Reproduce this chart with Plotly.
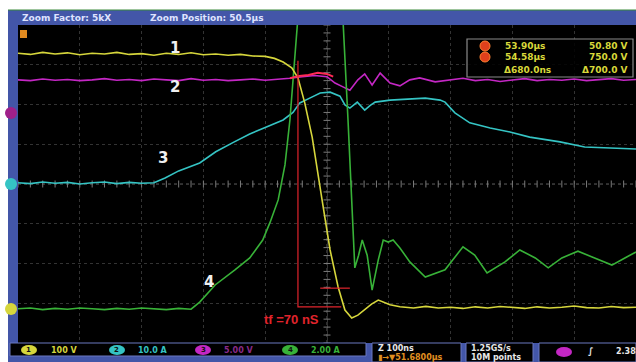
import plotly.graph_objects as go
import numpy as np

W, H = 636, 362

# ---------------- waveform data (time in ns, amplitude in divisions) ----------------
ch1_t = [0, 20, 40, 60, 80, 100, 120, 140, 160, 180, 200, 220, 240, 260, 280, 300, 320, 340,
         360, 380, 400, 415, 429, 443, 453, 464, 476, 485, 492, 505, 518, 529, 540, 550, 561,
         572, 583, 593, 602, 618, 640, 660, 680, 700, 720, 740, 760, 780, 800, 820, 840, 860,
         880, 900, 920, 940, 960, 980, 1000]
ch1_v = [3.29, 3.26, 3.31, 3.27, 3.30, 3.25, 3.29, 3.27, 3.31, 3.26, 3.28, 3.24, 3.29, 3.26,
         3.30, 3.25, 3.27, 3.24, 3.26, 3.22, 3.21, 3.16, 3.07, 2.92, 2.67, 2.04, 1.18, 0.35,
         -0.40, -1.66, -2.59, -3.17, -3.37, -3.30, -3.17, -3.02, -2.92, -2.98, -3.04, -3.09,
         -3.12, -3.08, -3.12, -3.10, -3.13, -3.09, -3.12, -3.08, -3.11, -3.13, -3.09, -3.12,
         -3.10, -3.07, -3.11, -3.12, -3.08, -3.11, -3.10]

ch3_t = [0, 20, 40, 60, 80, 100, 120, 140, 160, 180, 200, 220, 240, 260, 280, 300, 320, 340,
         360, 380, 400, 420, 440, 460, 480, 500, 513, 525, 537, 550, 561, 573, 586, 602, 618,
         634, 650, 675, 699, 720, 740, 760, 780, 800, 820, 840, 860, 880, 900, 920, 940, 960,
         980, 1000]
ch3_v = [2.62, 2.60, 2.64, 2.61, 2.63, 2.60, 2.62, 2.65, 2.61, 2.63, 2.60, 2.64, 2.62, 2.60,
         2.65, 2.61, 2.63, 2.60, 2.62, 2.64, 2.61, 2.63, 2.66, 2.70, 2.73, 2.70, 2.54, 2.45,
         2.36, 2.62, 2.77, 2.49, 2.79, 2.54, 2.47, 2.62, 2.67, 2.57, 2.62, 2.66, 2.60, 2.63,
         2.58, 2.62, 2.65, 2.60, 2.63, 2.61, 2.64, 2.60, 2.62, 2.65, 2.61, 2.63]

# highlighted section of channel 3 during the switching edge
hl_t = [440, 455, 470, 485, 500, 510]
hl_v = [2.66, 2.72, 2.74, 2.80, 2.77, 2.70]

ch2_t = [0, 20, 40, 60, 80, 100, 120, 140, 160, 180, 200, 220, 238, 260, 294, 320, 350, 375,
         400, 429, 445, 456, 472, 489, 505, 521, 529, 537, 549, 561, 570, 578, 602, 634, 659,
         683, 691, 707, 731, 764, 796, 828, 877, 917, 942, 1000]
ch2_v = [0.03, 0.01, 0.05, 0.02, 0.04, 0.00, 0.03, 0.05, 0.01, 0.04, 0.02, 0.03, 0.15, 0.33,
         0.53, 0.81, 1.06, 1.26, 1.42, 1.61, 1.80, 2.04, 2.16, 2.29, 2.31, 2.21, 1.99, 1.91,
         2.06, 1.86, 1.98, 2.06, 2.11, 2.14, 2.16, 2.11, 2.06, 1.79, 1.54, 1.41, 1.31, 1.18,
         1.06, 0.93, 0.91, 0.88]

ch4_t = [0, 20, 40, 60, 80, 100, 120, 140, 160, 180, 200, 220, 240, 260, 280, 294, 319, 351,
         375, 396, 408, 421, 432, 440, 448, 455, 470, 490, 510, 525, 534, 540, 545, 551, 557,
         565, 573, 583, 591, 599, 607, 618, 634, 659, 691, 720, 739, 759, 788, 812, 837, 858,
         880, 906, 934, 961, 982, 1000]
ch4_v = [-3.14, -3.12, -3.16, -3.13, -3.15, -3.12, -3.14, -3.16, -3.13, -3.15, -3.12, -3.14,
         -3.16, -3.13, -3.15, -2.97, -2.54, -2.16, -1.86, -1.41, -0.96, -0.40, 0.48, 1.61, 3.12,
         4.60, 5.50, 5.80, 5.20, 4.40, 1.61, -0.65, -2.11, -1.80, -1.41, -1.79, -2.67, -1.91,
         -1.41, -1.46, -1.41, -1.61, -1.96, -2.34, -2.16, -1.58, -1.79, -2.24, -1.96, -1.66,
         -1.86, -2.11, -1.86, -1.69, -1.86, -2.04, -1.86, -1.71]

# fall-time cursor (tf = 70 ns)
tf_start = 453
tf_ns = 70
tf_top = 3.10
tf_level = -3.09
cross_t = [489, 537]
cross_v = -2.62

label_t = [254, 254, 235, 309]
label_v = [3.42, 2.44, 0.65, -2.47]
label_txt = ["1", "2", "3", "4"]

YEL, CYA, MAG, GRN = "#d6d63c", "#35c4c4", "#c427c4", "#38b238"
BLUE = "#4356a8"
RED = "#e0242c"

fig = go.Figure()

# graticule ticks along the centre lines
tk = np.arange(0, 1001, 20)
fig.add_trace(go.Scatter(x=tk, y=[0] * len(tk), mode="markers",
                         marker=dict(symbol="line-ns", size=5, line=dict(color="#7a7a7a", width=1)),
                         showlegend=False, hoverinfo="skip"))
vk = np.arange(-4, 4.01, 0.2)
fig.add_trace(go.Scatter(x=[500] * len(vk), y=vk, mode="markers",
                         marker=dict(symbol="line-ew", size=5, line=dict(color="#7a7a7a", width=1)),
                         showlegend=False, hoverinfo="skip"))

for t, v, c in [(ch2_t, ch2_v, CYA), (ch3_t, ch3_v, MAG), (ch4_t, ch4_v, GRN), (ch1_t, ch1_v, YEL)]:
    fig.add_trace(go.Scatter(x=t, y=v, mode="lines", line=dict(color=c, width=1.6),
                             hoverinfo="skip", showlegend=False))
fig.add_trace(go.Scatter(x=hl_t, y=hl_v, mode="lines", line=dict(color="#ff2a55", width=2),
                         showlegend=False, hoverinfo="skip"))

# fall-time markers
fig.add_trace(go.Scatter(x=[tf_start, tf_start, tf_start + tf_ns], y=[tf_top, tf_level, tf_level],
                         mode="lines", line=dict(color=RED, width=1.2), showlegend=False, hoverinfo="skip"))
fig.add_trace(go.Scatter(x=cross_t, y=[cross_v, cross_v], mode="lines",
                         line=dict(color=RED, width=1.2), showlegend=False, hoverinfo="skip"))

for t, v, s in zip(label_t, label_v, label_txt):
    fig.add_annotation(x=t, y=v, text=f"<b>{s}</b>", showarrow=False,
                       font=dict(family="DejaVu Sans", size=15, color="#f0f0f0"))
fig.add_annotation(x=tf_start - 10, y=-3.40, text=f"<b>tf ={tf_ns} nS</b>", showarrow=False,
                   font=dict(family="Liberation Sans", size=13, color=RED))


def px(x):
    return x / W


def py(y):
    return 1 - y / H


def rect(x0, y0, x1, y1, fill, line=None):
    return dict(type="rect", xref="paper", yref="paper", x0=px(x0), x1=px(x1), y0=py(y1), y1=py(y0),
                fillcolor=fill, line=line or dict(width=0))


def dot(xc, yc, rx, ry, fill, line=None):
    return dict(type="circle", xref="paper", yref="paper", x0=px(xc - rx), x1=px(xc + rx),
                y0=py(yc + ry), y1=py(yc - ry), fillcolor=fill, line=line or dict(width=0))


shapes = []
# frame around the display: header, left strip, bottom bar
shapes.append(rect(8, 10, 636, 25, BLUE))
shapes.append(rect(8, 25, 18, 343, BLUE))
shapes.append(rect(8, 343, 636, 362, BLUE))
shapes.append(dict(type="line", xref="paper", yref="paper", x0=px(8), x1=1, y0=py(10), y1=py(10),
                   line=dict(color="#3a8a3a", width=1)))
# channel strip and info boxes
shapes.append(rect(10, 343, 366, 356, "#000000", dict(color="#6a78c0", width=1)))
for x0, x1 in [(372, 461), (466, 533), (539, 636)]:
    shapes.append(rect(x0, 343, x1, 362, "#000000", dict(color="#6a78c0", width=1)))
for xc, col in [(29, YEL), (117, CYA), (203, MAG), (290, GRN)]:
    shapes.append(dot(xc, 350, 8, 5, col))
shapes.append(dot(564, 352, 8, 5, MAG))
# cursor readout box
shapes.append(rect(467, 39, 633, 77, "rgba(0,0,0,0.85)", dict(color="#8a8a8a", width=1.2)))
for yc in [46, 57]:
    shapes.append(dot(485, yc, 5, 5, "#e0401c", dict(color="#ff8030", width=1)))
# left-edge level markers
for yc, col in [(113, "#a0208a"), (184, CYA), (309, YEL)]:
    shapes.append(dot(11, yc, 6, 6, col))
shapes.append(rect(20, 30, 27, 38, "#e08a20"))
# centre cross-hair
shapes.append(dict(type="line", xref="x", yref="y", x0=0, x1=1000, y0=0, y1=0,
                   line=dict(color="#5a5a5a", width=1, dash="dot"), layer="below"))
shapes.append(dict(type="line", xref="x", yref="y", x0=500, x1=500, y0=-4, y1=4,
                   line=dict(color="#5a5a5a", width=1, dash="dot"), layer="below"))

fig.update_layout(shapes=shapes)


def txt(x, y, s, color, size=9, anchor="left"):
    fig.add_annotation(xref="paper", yref="paper", x=px(x), y=py(y), text=s, showarrow=False,
                       xanchor=anchor, yanchor="middle",
                       font=dict(family="DejaVu Sans", size=size, color=color))


txt(20, 17.5, "<b>Zoom Factor: 5kX</b>", "#dfe3ff", 9)
txt(148, 17.5, "<b>Zoom Position: 50.5µs</b>", "#dfe3ff", 9)

txt(503, 46, "<b>53.90µs</b>", "#d8d83a", 9)
txt(630, 46, "<b>50.80 V</b>", "#d8d83a", 9, "right")
txt(503, 57, "<b>54.58µs</b>", "#d8d83a", 9)
txt(630, 57, "<b>750.0 V</b>", "#d8d83a", 9, "right")
txt(502, 70, "<b>Δ680.0ns</b>", "#d8d83a", 9)
txt(630, 70, "<b>Δ700.0 V</b>", "#d8d83a", 9, "right")

for xc, num in [(29, "1"), (117, "2"), (203, "3"), (290, "4")]:
    txt(xc, 350, f"<b>{num}</b>", "#101010", 7, "center")
txt(49, 350, "<b>100 V</b>", YEL, 8)
txt(136, 350, "<b>10.0 A</b>", CYA, 8)
txt(222, 350, "<b>5.00 V</b>", "#8a2a8a", 8)
txt(309, 350, "<b>2.00 A</b>", GRN, 8)

txt(376, 348, "<b>Z 100ns</b>", "#e8e8e8", 8)
txt(376, 357.5, "<b>▮→▼51.6800µs</b>", "#e09020", 8)
txt(469, 348, "<b>1.25GS/s</b>", "#e8e8e8", 8)
txt(469, 357.5, "<b>10M points</b>", "#e8e8e8", 8)
txt(586, 351, "<b>∫</b>", "#e8e8e8", 9)
txt(614, 351, "<b>2.38</b>", "#e8e8e8", 8)

fig.update_layout(
    width=W, height=H, margin=dict(l=0, r=0, t=0, b=0),
    paper_bgcolor="#ffffff", plot_bgcolor="#000000",
    xaxis=dict(domain=[18 / W, 1], range=[0, 1000], dtick=100, showgrid=True,
               gridcolor="#333333", griddash="dot", gridwidth=1, zeroline=False,
               showticklabels=False, ticks="", fixedrange=True),
    yaxis=dict(domain=[py(343), py(25)], range=[-4, 4], dtick=1, showgrid=True,
               gridcolor="#333333", griddash="dot", gridwidth=1, zeroline=False,
               showticklabels=False, ticks="", fixedrange=True),
    showlegend=False,
)

fig.write_html("out.html")
